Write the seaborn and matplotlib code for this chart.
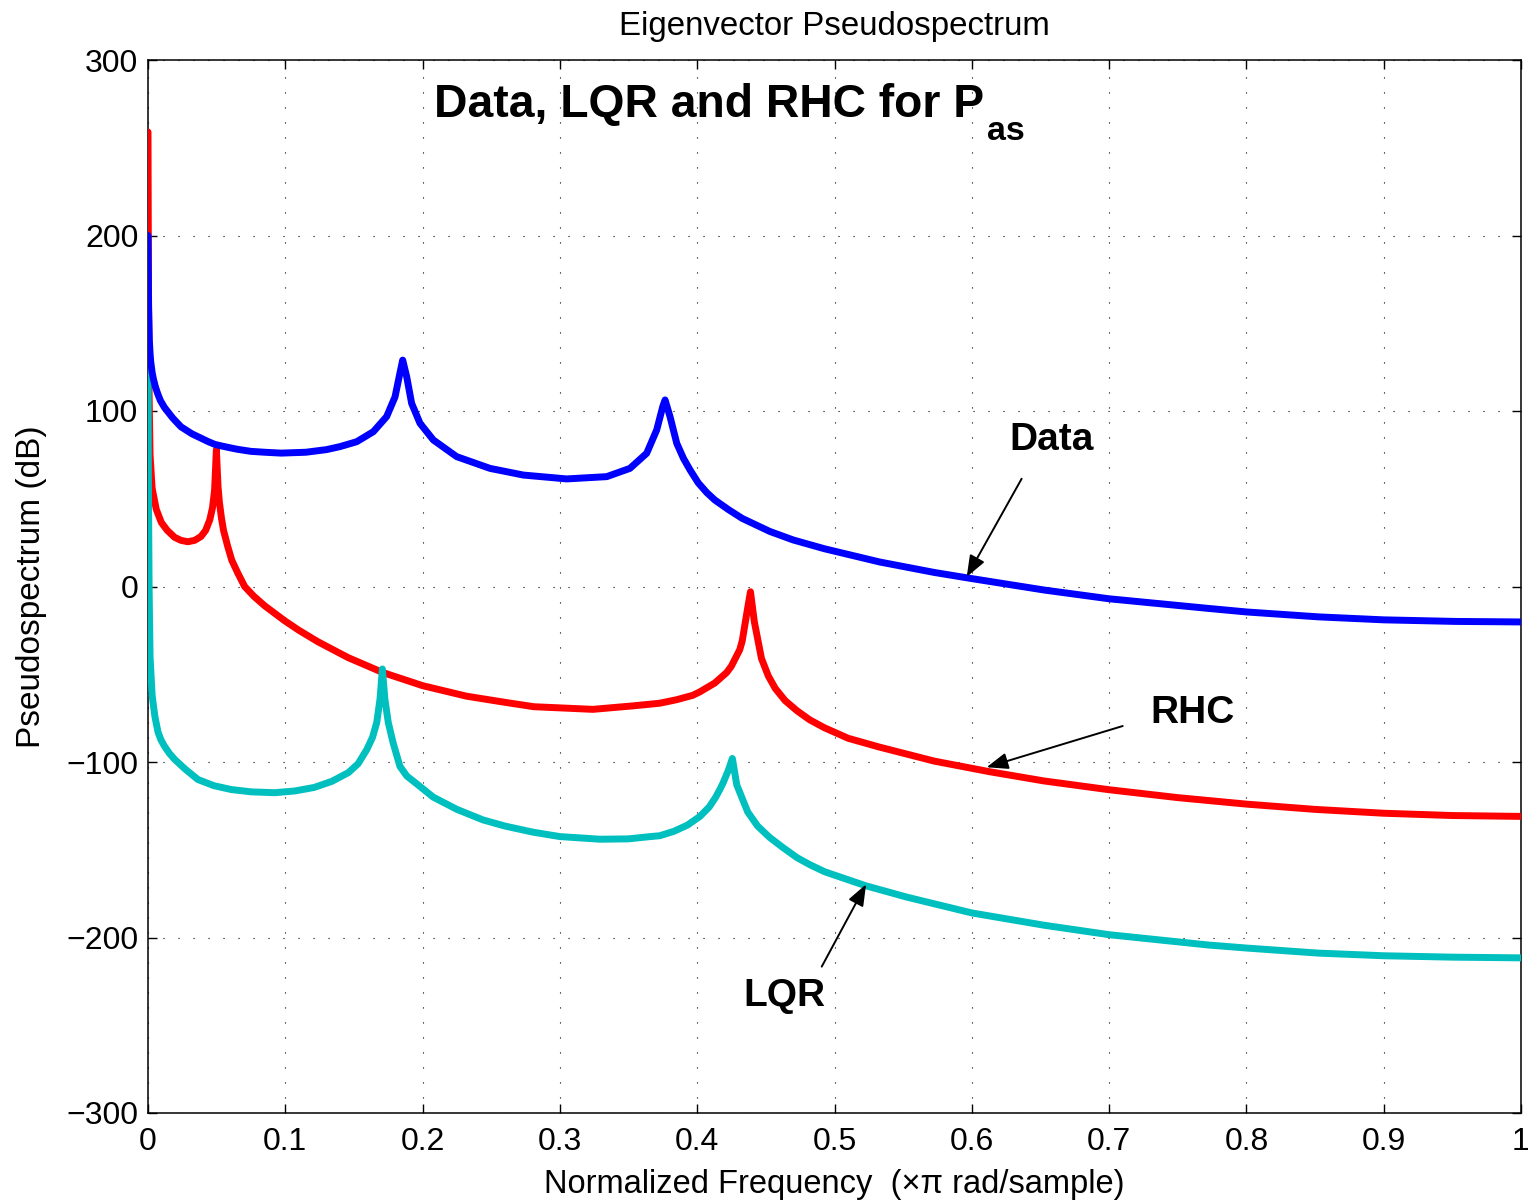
import numpy as np
import pandas as pd
import matplotlib
matplotlib.use("Agg")
import matplotlib.pyplot as plt
import seaborn as sns

# ---------------- data ----------------
data_f = [0, 0.0004, 0.001, 0.0015, 0.002, 0.003, 0.004, 0.0055, 0.007, 0.009,
          0.012, 0.015, 0.018, 0.021, 0.024, 0.028, 0.032, 0.036, 0.04, 0.044,
          0.0486, 0.054, 0.06, 0.065, 0.075, 0.085, 0.097, 0.115, 0.13, 0.1398,
          0.152, 0.1641, 0.1738, 0.1799, 0.1835, 0.1855, 0.1884, 0.192, 0.1981, 0.2078,
          0.2248, 0.2491, 0.2734, 0.3049, 0.3341, 0.351, 0.3632, 0.3705, 0.3749, 0.3766,
          0.3802, 0.3851, 0.39, 0.3948, 0.4008, 0.407, 0.4128, 0.4228, 0.4328, 0.4528,
          0.47, 0.4927, 0.5327, 0.5727, 0.6, 0.6526, 0.7, 0.7725, 0.8, 0.8524,
          0.9, 0.9523, 1.0]
data_db = [200, 160, 140, 133, 128, 122, 118, 113.5, 110, 106,
           102, 99, 96, 93.5, 91, 89, 87, 85.5, 84, 82.5,
           81, 80, 79, 78.2, 77, 76.5, 76, 76.5, 78, 79.7,
           82.5, 88.2, 96.8, 108, 121.6, 129, 119.6, 104.4, 93, 83.5,
           74, 67.3, 63.5, 61.3, 62.6, 67.3, 75.9, 89.2, 102.5, 106.3,
           96.8, 81.6, 73, 66.4, 59, 53.5, 49.3, 43.8, 38.8, 31.4,
           26.5, 21.5, 14, 8, 4.5, -2, -7, -12.5, -14.5, -17.3,
           -19, -19.9, -20.2]

rhc_f = [0, 0.0003, 0.0008, 0.0015, 0.003, 0.006, 0.0097, 0.014, 0.0194, 0.024,
         0.029, 0.034, 0.0386, 0.042, 0.045, 0.047, 0.0485, 0.0498, 0.051, 0.052,
         0.0535, 0.055, 0.058, 0.061, 0.0655, 0.0704, 0.077, 0.085, 0.0995, 0.11,
         0.1238, 0.1457, 0.171, 0.2, 0.232, 0.26, 0.281, 0.324, 0.3535, 0.3728,
         0.385, 0.3968, 0.402, 0.4128, 0.4215, 0.4248, 0.431, 0.4328, 0.4368, 0.4388,
         0.4416, 0.4468, 0.4518, 0.4568, 0.464, 0.4727, 0.482, 0.4927, 0.51, 0.5327,
         0.5727, 0.6127, 0.6526, 0.7, 0.75, 0.8, 0.85, 0.9, 0.95, 1.0]
rhc_db = [259, 180, 110, 75, 56, 44, 36.5, 32, 28, 26.3,
          25.5, 26.3, 28.5, 32, 38, 45, 55, 78, 57, 48,
          39, 32, 23, 15, 7.5, 0, -5.5, -11, -19.5, -25,
          -31.5, -40.5, -49, -56.5, -62.5, -66, -68.5, -70, -68, -66.5,
          -64.5, -62, -60, -55, -49, -45.5, -36, -31, -12, -3,
          -20, -41, -51, -58, -65, -70.8, -76, -80.5, -86.5, -91.5,
          -99.5, -105.5, -110.8, -115.8, -120.3, -124, -127, -129.2, -130.5, -131]

lqr_f = [0, 0.0003, 0.0008, 0.0015, 0.003, 0.005, 0.0073, 0.0095, 0.012, 0.0155,
         0.0194, 0.027, 0.0364, 0.048, 0.0607, 0.075, 0.0922, 0.107, 0.121, 0.134,
         0.146, 0.153, 0.1593, 0.1635, 0.1666, 0.169, 0.1707, 0.1725, 0.175, 0.1785,
         0.1835, 0.1885, 0.195, 0.2077, 0.225, 0.244, 0.26, 0.2805, 0.3, 0.3293,
         0.35, 0.3657, 0.3728, 0.383, 0.3928, 0.402, 0.4088, 0.4135, 0.4166, 0.4188,
         0.4228, 0.4256, 0.4288, 0.4368, 0.444, 0.4528, 0.462, 0.4727, 0.482, 0.4927,
         0.5227, 0.5527, 0.6, 0.6526, 0.7, 0.7725, 0.8, 0.8524, 0.9, 0.95,
         1.0]
lqr_db = [140, 60, 0, -40, -62, -74, -83, -87.5, -91, -95,
          -98.5, -104, -110, -113.5, -115.7, -117, -117.5, -116.5, -114.5, -111,
          -106, -101, -93, -86, -77.5, -64, -47, -64, -77.5, -89,
          -102.5, -108, -112, -120, -127, -133, -136.5, -140, -142.5, -144,
          -143.8, -142.5, -142, -139.5, -136, -131, -125.6, -120, -115.5, -112,
          -104.5, -98, -113, -128.5, -136.5, -143, -148.5, -154.5, -158.5, -162.5,
          -170.5, -177, -186, -193, -198.4, -204.3, -206, -208.9, -210.4, -211.2,
          -211.6]

x_ticks = [0, 0.1, 0.2, 0.3, 0.4, 0.5, 0.6, 0.7, 0.8, 0.9, 1]
x_tick_labels = ["0", "0.1", "0.2", "0.3", "0.4", "0.5", "0.6", "0.7", "0.8", "0.9", "1"]
y_ticks = [-300, -200, -100, 0, 100, 200, 300]

# ---------------- styling ----------------
sns.set_theme(style="white")
plt.rcParams['font.family'] = ['Liberation Sans', 'DejaVu Sans']
plt.rcParams['axes.unicode_minus'] = True
plt.rcParams['text.color'] = 'black'

fig = plt.figure(figsize=(15.28, 12), dpi=100)
ax = fig.add_axes([148 / 1528, 87 / 1200, 1373 / 1528, 1053 / 1200])

series = [
    (rhc_f, rhc_db, "#ff0000"),
    (lqr_f, lqr_db, "#00bfbf"),
    (data_f, data_db, "#0000ff"),
]
for z, (f, p, c) in enumerate(series):
    df = pd.DataFrame({"f": f, "p": p})
    sns.lineplot(data=df, x="f", y="p", ax=ax, color=c, linewidth=5.0,
                 estimator=None, sort=False, zorder=3 + z,
                 solid_joinstyle="round", solid_capstyle="round")

ax.set_xlim(0, 1)
ax.set_ylim(-300, 300)
ax.set_xticks(x_ticks)
ax.set_xticklabels(x_tick_labels)
ax.set_yticks(y_ticks)

ax.set_axisbelow(True)
ax.grid(True, color="black", linestyle=(0, (1, 12.5)), linewidth=0.8)
for s in ax.spines.values():
    s.set_color("black")
    s.set_linewidth(1.1)
    s.set_visible(True)

ax.tick_params(axis="both", which="major", direction="in", length=6.5, width=1,
               color="black", labelcolor="black", labelsize=23,
               bottom=True, left=True, top=True, right=True)
ax.tick_params(axis="x", pad=10)
ax.tick_params(axis="y", pad=7)

ax.set_xlabel("Normalized Frequency  (\u00d7\u03c0 rad/sample)", fontsize=23.5,
              color="black", labelpad=9)
ax.set_ylabel("Pseudospectrum (dB)", fontsize=24, color="black", labelpad=14)
ax.set_title("Eigenvector Pseudospectrum", fontsize=23.8, color="black", pad=18)

# big in-axes title with subscript
t1 = ax.text(0.2083, 0.9459, "Data, LQR and RHC for P", transform=ax.transAxes,
             fontsize=33.3, fontweight="bold", ha="left", va="baseline", zorder=10)
ax.annotate("as", xy=(1, 0), xycoords=t1, xytext=(3, -13),
            textcoords="offset pixels", fontsize=24.5, fontweight="bold",
            ha="left", va="baseline", zorder=10)

# annotations
arrow_kw = dict(arrowstyle="-|>,head_length=0.65,head_width=0.25", color="black",
                lw=1.4, shrinkA=0, shrinkB=0, mutation_scale=20)
labels = [
    ("Data", (0.6584, 83.4), (0.6363, 61.4), (0.5963, 5.5)),
    ("RHC", (0.7609, -71.9), (0.7099, -79.5), (0.6108, -103.0)),
    ("LQR", (0.4639, -233.3), (0.4907, -216.6), (0.5230, -169.7)),
]
for txt, tpos, tail, tip in labels:
    ax.annotate("", xy=tip, xytext=tail, arrowprops=arrow_kw, zorder=9)
    ax.text(tpos[0], tpos[1], txt, fontsize=28, fontweight="bold",
            ha="center", va="center", zorder=10)

fig.savefig("out.png", dpi=100)
